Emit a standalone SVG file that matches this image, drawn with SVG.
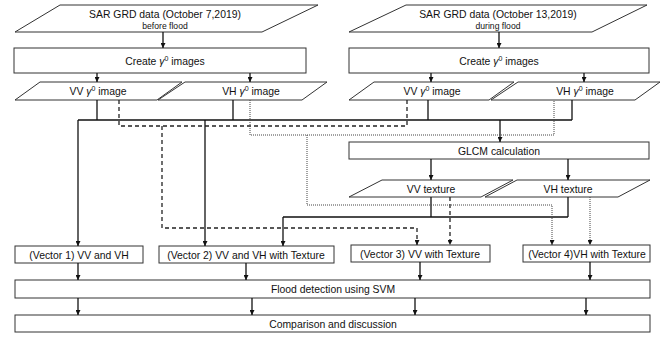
<svg xmlns="http://www.w3.org/2000/svg" width="669" height="337" viewBox="0 0 669 337">
  <style>
    .shape { fill: #fff; stroke: #333; stroke-width: 1; }
    .t { font-family: "Liberation Sans", Arial, sans-serif; font-size: 10.4px; fill: #111; text-anchor: middle; }
    .small { font-size: 8.6px; }
    .sup { font-size: 7px; }
    .solid { fill: none; stroke: #111; stroke-width: 1.3; }
    .dash { fill: none; stroke: #222; stroke-width: 1.3; stroke-dasharray: 4 3; }
    .dot { fill: none; stroke: #444; stroke-width: 1; stroke-dasharray: 1 1; }
  </style>
  <defs>
    <marker id="arr" viewBox="0 0 8 8" refX="8" refY="4" markerWidth="5" markerHeight="5" orient="auto" markerUnits="userSpaceOnUse">
      <path d="M0,0 L8,4 L0,8 Z" fill="#111"/>
    </marker>
  </defs>
  <rect width="669" height="337" fill="#fff"/>

  <g id="sar-before">
    <polygon class="shape" points="60,5 318,5 262,32 15,32"/>
    <text class="t" x="165" y="18">SAR GRD data (October 7,2019)</text>
    <text class="t small" x="165" y="29">before flood</text>
  </g>
  <g id="sar-during">
    <polygon class="shape" points="406,5 647,5 592,32 349,32"/>
    <text class="t" x="498" y="18">SAR GRD data (October 13,2019)</text>
    <text class="t small" x="498" y="29">during flood</text>
  </g>

  <g id="create-before">
    <rect class="shape" x="14" y="48" width="292" height="25"/>
    <text class="t" x="165" y="65">Create  <tspan font-style="italic">γ</tspan><tspan class="sup" dy="-4">0</tspan><tspan dy="4"> images</tspan></text>
  </g>
  <g id="create-during">
    <rect class="shape" x="349" y="48" width="300" height="25"/>
    <text class="t" x="499" y="65">Create  <tspan font-style="italic">γ</tspan><tspan class="sup" dy="-4">0</tspan><tspan dy="4"> images</tspan></text>
  </g>

  <g id="vv-before">
    <polygon class="shape" points="40,82 182,82 157,100 15,100"/>
    <text class="t" x="98" y="95">VV  <tspan font-style="italic">γ</tspan><tspan class="sup" dy="-4">0</tspan><tspan dy="4"> image</tspan></text>
  </g>
  <g id="vh-before">
    <polygon class="shape" points="185,82 327,82 302,100 158,100"/>
    <text class="t" x="251" y="95">VH <tspan font-style="italic">γ</tspan><tspan class="sup" dy="-4">0</tspan><tspan dy="4"> image</tspan></text>
  </g>
  <g id="vv-during">
    <polygon class="shape" points="374,82 514,82 489,100 349,100"/>
    <text class="t" x="432" y="95">VV <tspan font-style="italic">γ</tspan><tspan class="sup" dy="-4">0</tspan><tspan dy="4"> image</tspan></text>
  </g>
  <g id="vh-during">
    <polygon class="shape" points="518,82 660,82 635,100 491,100"/>
    <text class="t" x="585" y="95">VH <tspan font-style="italic">γ</tspan><tspan class="sup" dy="-4">0</tspan><tspan dy="4"> image</tspan></text>
  </g>

  <g id="glcm">
    <rect class="shape" x="349" y="142" width="300" height="17"/>
    <text class="t" x="499" y="154.5">GLCM calculation</text>
  </g>
  <g id="vv-texture">
    <polygon class="shape" points="382,180 513,180 481,197 349,197"/>
    <text class="t" x="431" y="192.5">VV texture</text>
  </g>
  <g id="vh-texture">
    <polygon class="shape" points="517,180 650,180 618,197 485,197"/>
    <text class="t" x="568" y="192.5">VH texture</text>
  </g>

  <g id="vector1">
    <rect class="shape" x="15" y="246" width="128" height="17"/>
    <text class="t" x="79" y="258.5">(Vector 1) VV and VH</text>
  </g>
  <g id="vector2">
    <rect class="shape" x="159" y="246" width="175" height="17"/>
    <text class="t" x="246" y="258.5">(Vector 2) VV and VH with Texture</text>
  </g>
  <g id="vector3">
    <rect class="shape" x="351" y="245" width="139" height="17"/>
    <text class="t" x="420" y="257.5">(Vector 3) VV with Texture</text>
  </g>
  <g id="vector4">
    <rect class="shape" x="523" y="245" width="127" height="17"/>
    <text class="t" x="587" y="257.5">(Vector 4)VH with Texture</text>
  </g>

  <g id="svm">
    <rect class="shape" x="15" y="280" width="635" height="18"/>
    <text class="t" x="333" y="292.5">Flood detection using SVM</text>
  </g>
  <g id="comparison">
    <rect class="shape" x="15" y="315" width="635" height="17"/>
    <text class="t" x="333" y="327.5">Comparison and discussion</text>
  </g>

  <g id="connectors">
    <!-- straight flow arrows -->
    <path class="solid" marker-end="url(#arr)" d="M163,32 V48"/>
    <path class="solid" marker-end="url(#arr)" d="M499,32 V48"/>
    <path class="solid" marker-end="url(#arr)" d="M97,73 V82"/>
    <path class="solid" marker-end="url(#arr)" d="M250,73 V82"/>
    <path class="solid" marker-end="url(#arr)" d="M431,73 V82"/>
    <path class="solid" marker-end="url(#arr)" d="M584,73 V82"/>
    <path class="solid" marker-end="url(#arr)" d="M431,159 V180"/>
    <path class="solid" marker-end="url(#arr)" d="M568,159 V180"/>

    <!-- backscatter images: solid bus -->
    <path class="solid" d="M97,100 V120 M233,100 V120 M428,100 V120 M572,100 V120 M78,120 H572"/>
    <path class="solid" marker-end="url(#arr)" d="M78,120 V246"/>
    <path class="solid" marker-end="url(#arr)" d="M205,120 V246"/>
    <path class="solid" marker-end="url(#arr)" d="M500,120 V142"/>

    <!-- textures: solid bus to vector 2 -->
    <path class="solid" d="M431,197 V217 M568,197 V217 M283,217 H568"/>
    <path class="solid" marker-end="url(#arr)" d="M283,217 V246"/>

    <!-- VV path: dashed -->
    <path class="dash" d="M119,100 V126 H407 V100"/>
    <path class="dash" marker-end="url(#arr)" d="M162,126 V228 H417 V245"/>
    <path class="dash" marker-end="url(#arr)" d="M450,197 V245"/>

    <!-- VH path: dotted -->
    <path class="dot" d="M250,100 V135 H554 V100"/>
    <path class="dot" marker-end="url(#arr)" d="M307,135 V205 H552 V245"/>
    <path class="dot" marker-end="url(#arr)" d="M590,197 V245"/>

    <!-- vectors to SVM -->
    <path class="solid" marker-end="url(#arr)" d="M78,263 V280"/>
    <path class="solid" marker-end="url(#arr)" d="M246,263 V280"/>
    <path class="solid" marker-end="url(#arr)" d="M420,262 V280"/>
    <path class="solid" marker-end="url(#arr)" d="M590,262 V280"/>

    <!-- SVM to comparison -->
    <path class="solid" marker-end="url(#arr)" d="M78,298 V315"/>
    <path class="solid" marker-end="url(#arr)" d="M252,298 V315"/>
    <path class="solid" marker-end="url(#arr)" d="M415,298 V315"/>
    <path class="solid" marker-end="url(#arr)" d="M586,298 V315"/>
  </g>
</svg>
